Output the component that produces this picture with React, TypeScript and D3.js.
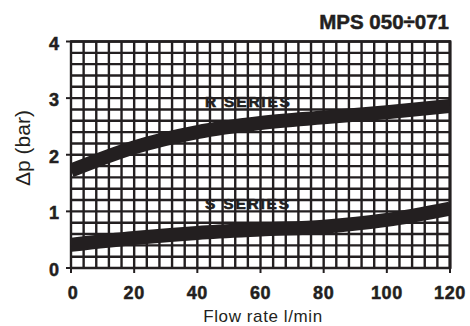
import React from "react";
import * as d3 from "d3";

const flowTicks = [0, 20, 40, 60, 80, 100, 120];
const dpTicks = [0, 1, 2, 3, 4];
const flowPoints = [0, 20, 40, 60, 80, 100, 120];
const rSeries = [1.72, 2.13, 2.4, 2.56, 2.66, 2.75, 2.86];
const sSeries = [0.41, 0.53, 0.62, 0.68, 0.73, 0.85, 1.05];
const seriesLabels = ["R SERIES", "S SERIES"];
const labelAt = [2.84, 1.04];
const title = "MPS 050÷071";

const W = 470;
const H = 326;
const L = 71, R = 450, T = 41.5, B = 268;

export default function App() {
  const x = d3.scaleLinear().domain([0, 120]).range([L, R]);
  const y = d3.scaleLinear().domain([0, 4]).range([B, T]);
  const vGrid = d3.range(0, 120.001, 4);
  const hGrid = d3.range(0, 4.001, 0.2);
  const line = d3
    .line<number>()
    .x((_, i) => x(flowPoints[i]))
    .y((d) => y(d))
    .curve(d3.curveMonotoneX);
  const ink = "#231f20";
  const font = "Liberation Sans, Arial, sans-serif";
  return (
    <svg
      width={W}
      height={H}
      style={{ position: "absolute", left: 0, top: 0, background: "#fff" }}
    >
      <defs>
        <clipPath id="plot">
          <rect x={L} y={T} width={R - L} height={B - T} />
        </clipPath>
      </defs>
      <rect x={L} y={T} width={R - L} height={B - T} fill="#fff" />
      {vGrid.map((v) => (
        <line key={"v" + v} x1={x(v)} x2={x(v)} y1={T} y2={B} stroke={ink} strokeWidth={2.4} />
      ))}
      {hGrid.map((v) => (
        <line key={"h" + v} x1={L} x2={R} y1={y(v)} y2={y(v)} stroke={ink} strokeWidth={2.4} />
      ))}
      <line x1={R} x2={R} y1={T - 1} y2={B + 1} stroke={ink} strokeWidth={3} />
      <line x1={L - 1} x2={R + 1} y1={T} y2={T} stroke={ink} strokeWidth={2.5} />
      <g clipPath="url(#plot)">
        <path d={line(rSeries) || ""} fill="none" stroke={ink} strokeWidth={14} />
        <path d={line(sSeries) || ""} fill="none" stroke={ink} strokeWidth={14} />
      </g>
      {dpTicks.map((v) => (
        <g key={"yt" + v}>
          <line x1={L - 5} x2={L} y1={y(v)} y2={y(v)} stroke={ink} strokeWidth={2} />
          <text
            x={L - 12}
            y={y(v) + 8}
            textAnchor="end"
            fontFamily={font}
            fontWeight="bold"
            fontSize={18}
            stroke={ink}
            strokeWidth={0.5}
            fill={ink}
          >
            {v}
          </text>
        </g>
      ))}
      {flowTicks.map((v) => (
        <g key={"xt" + v}>
          <line x1={x(v)} x2={x(v)} y1={B} y2={B + 5} stroke={ink} strokeWidth={2} />
          <text
            x={x(v) + (v === 0 ? 2 : 0)}
            y={299}
            textAnchor="middle"
            fontFamily={font}
            fontWeight="bold"
            fontSize={18}
            letterSpacing={0.6}
            stroke={ink}
            strokeWidth={0.5}
            fill={ink}
          >
            {v}
          </text>
        </g>
      ))}
      {seriesLabels.map((s, i) => (
        <text
          key={s}
          x={205}
          y={y(labelAt[i])}
          fontFamily={font}
          fontWeight="bold"
          fontSize={15.5}
          letterSpacing={1.8}
          stroke={ink}
          strokeWidth={0.6}
          fill={ink}
        >
          {s}
        </text>
      ))}
      <text
        x={449}
        y={29}
        textAnchor="end"
        fontFamily={font}
        fontWeight="bold"
        fontSize={20.5}
        stroke={ink}
        strokeWidth={0.5}
        fill={ink}
      >
        {title}
      </text>
      <text
        transform={`translate(30, 148) rotate(-90)`}
        textAnchor="middle"
        fontFamily={font}
        fontSize={21}
        fill={ink}
      >
        Δp (bar)
      </text>
      <text
        x={263}
        y={322}
        textAnchor="middle"
        fontFamily={font}
        fontSize={17}
        letterSpacing={0.6}
        fill={ink}
      >
        Flow rate l/min
      </text>
    </svg>
  );
}
